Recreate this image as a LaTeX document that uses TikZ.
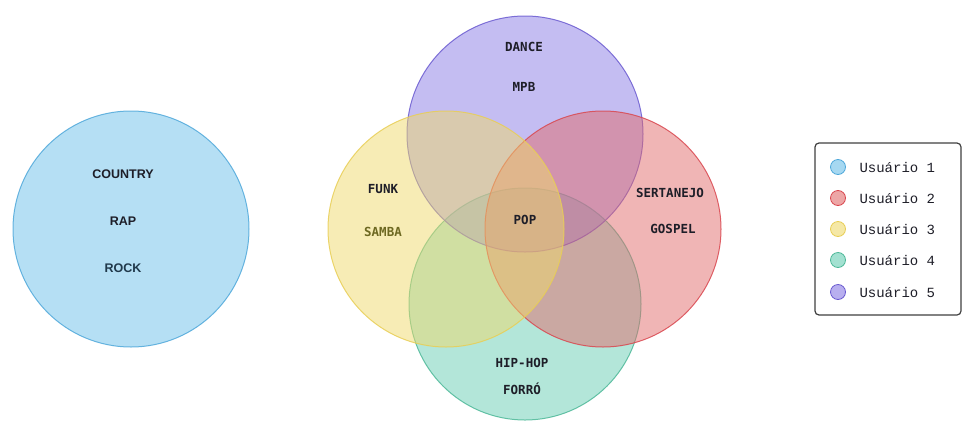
\documentclass[tikz,border=0pt]{standalone}
\usepackage{fontspec}
\setmainfont{Liberation Sans}
\newfontfamily\labelfont{DejaVu Sans Mono}
\newfontfamily\legendfont{Liberation Mono}
\usepackage{xcolor}
\definecolor{userone}{HTML}{6BBFE9}
\definecolor{usertwo}{HTML}{E16B6B}
\definecolor{userthree}{HTML}{EFD96B}
\definecolor{userfour}{HTML}{67CDB3}
\definecolor{userfive}{HTML}{897BE5}
\definecolor{lineone}{HTML}{4FA8DA}
\definecolor{linetwo}{HTML}{D9474F}
\definecolor{linethree}{HTML}{E8CE55}
\definecolor{linefour}{HTML}{4DB898}
\definecolor{linefive}{HTML}{6A5AD0}
\definecolor{inkdark}{HTML}{1E1E28}

\tikzset{
  venn/.style={circle, minimum size=236pt, inner sep=0pt, fill opacity=0.5, draw opacity=0.85, line width=1pt},
  genre/.style={font=\labelfont\bfseries\fontsize{12.5}{14}\selectfont, text=inkdark},
  genresans/.style={font=\bfseries\fontsize{12.5}{14}\selectfont, text=inkdark},
  dot/.style={circle, minimum size=15pt, inner sep=0pt, line width=0.8pt, fill opacity=0.6},
  entry/.style={anchor=west, font=\legendfont\fontsize{14}{16}\selectfont, text=inkdark}
}

\begin{document}
\begin{tikzpicture}[x=1pt, y=-1pt]
  \useasboundingbox (0,0) rectangle (962,421);

  % usuario 1 sozinho
  \node[venn, fill=userone, draw=lineone] (u1) at (131,229) {};
  \node[genresans] (country) at (123,174) {COUNTRY};
  \node[genresans] (rap) at (123,221) {RAP};
  \node[genresans, text=black!55!lineone!60!inkdark] (rock) at (123,268) {ROCK};

  % diagrama dos outros quatro
  \node[venn, fill=userfour, draw=linefour, minimum size=232pt] (u4) at (525,304) {};
  \node[venn, fill=userfive, draw=linefive] (u5) at (525,134) {};
  \node[venn, fill=usertwo, draw=linetwo] (u2) at (603,229) {};
  \node[venn, fill=userthree, draw=linethree] (u3) at (446,229) {};

  \node[genre] (dance) at (524,47) {DANCE};
  \node[genre] (mpb) at (524,87) {MPB};
  \node[genre] (funk) at (383,189) {FUNK};
  \node[genre, text=olive!70!black] (samba) at (383,232) {SAMBA};
  \node[genre] (sertanejo) at (670,193) {SERTANEJO};
  \node[genre] (gospel) at (673,229) {GOSPEL};
  \node[genre] (pop) at (525,220) {POP};
  \node[genre] (hiphop) at (522,363) {HIP-HOP};
  \node[genre] (forro) at (522,389) {FORRÓ};

  % legenda
  \node[draw=black!75, line width=1.2pt, rounded corners=4pt, fill=white,
        minimum width=146pt, minimum height=172pt] (legend) at (888,229) {};
  \node[dot, fill=userone, draw=lineone] (dot1) at (838,167) {};
  \node[entry] (lab1) at (856,167) {Usuário 1};
  \node[dot, fill=usertwo, draw=linetwo] (dot2) at (838,198) {};
  \node[entry] (lab2) at (856,198) {Usuário 2};
  \node[dot, fill=userthree, draw=linethree] (dot3) at (838,229) {};
  \node[entry] (lab3) at (856,229) {Usuário 3};
  \node[dot, fill=userfour, draw=linefour] (dot4) at (838,260) {};
  \node[entry] (lab4) at (856,260) {Usuário 4};
  \node[dot, fill=userfive, draw=linefive] (dot5) at (838,292) {};
  \node[entry] (lab5) at (856,292) {Usuário 5};
\end{tikzpicture}
\end{document}
